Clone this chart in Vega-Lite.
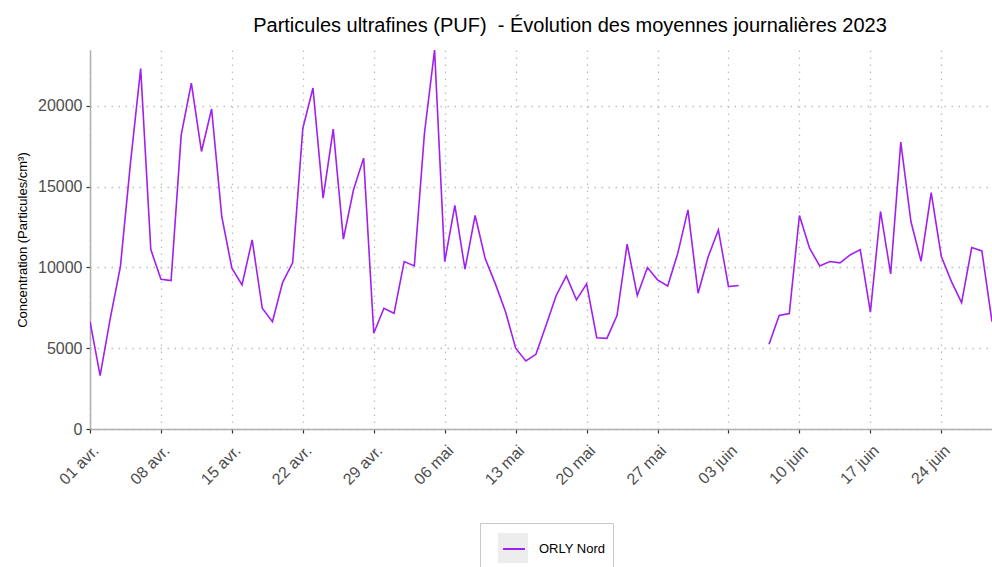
{
  "$schema": "https://vega.github.io/schema/vega-lite/v6.json",
  "width": 902,
  "height": 379,
  "autosize": {"type": "none"},
  "padding": {"left": 90, "top": 50, "right": 0, "bottom": 138},
  "background": "white",
  "title": {
    "text": "Particules ultrafines (PUF) \u00a0- Évolution des moyennes journalières 2023",
    "font": "Liberation Sans",
    "fontSize": 20,
    "fontWeight": "normal",
    "color": "#000000",
    "anchor": "middle",
    "dx": 29,
    "offset": 14
  },
  "data": {
    "values": [
      {"date": "2023-04-01", "value": 6650, "station": "ORLY Nord"},
      {"date": "2023-04-02", "value": 3300, "station": "ORLY Nord"},
      {"date": "2023-04-03", "value": 6850, "station": "ORLY Nord"},
      {"date": "2023-04-04", "value": 10050, "station": "ORLY Nord"},
      {"date": "2023-04-05", "value": 16500, "station": "ORLY Nord"},
      {"date": "2023-04-06", "value": 22300, "station": "ORLY Nord"},
      {"date": "2023-04-07", "value": 11100, "station": "ORLY Nord"},
      {"date": "2023-04-08", "value": 9270, "station": "ORLY Nord"},
      {"date": "2023-04-09", "value": 9185, "station": "ORLY Nord"},
      {"date": "2023-04-10", "value": 18200, "station": "ORLY Nord"},
      {"date": "2023-04-11", "value": 21400, "station": "ORLY Nord"},
      {"date": "2023-04-12", "value": 17170, "station": "ORLY Nord"},
      {"date": "2023-04-13", "value": 19800, "station": "ORLY Nord"},
      {"date": "2023-04-14", "value": 13150, "station": "ORLY Nord"},
      {"date": "2023-04-15", "value": 9950, "station": "ORLY Nord"},
      {"date": "2023-04-16", "value": 8920, "station": "ORLY Nord"},
      {"date": "2023-04-17", "value": 11700, "station": "ORLY Nord"},
      {"date": "2023-04-18", "value": 7470, "station": "ORLY Nord"},
      {"date": "2023-04-19", "value": 6640, "station": "ORLY Nord"},
      {"date": "2023-04-20", "value": 9060, "station": "ORLY Nord"},
      {"date": "2023-04-21", "value": 10300, "station": "ORLY Nord"},
      {"date": "2023-04-22", "value": 18600, "station": "ORLY Nord"},
      {"date": "2023-04-23", "value": 21100, "station": "ORLY Nord"},
      {"date": "2023-04-24", "value": 14280, "station": "ORLY Nord"},
      {"date": "2023-04-25", "value": 18550, "station": "ORLY Nord"},
      {"date": "2023-04-26", "value": 11750, "station": "ORLY Nord"},
      {"date": "2023-04-27", "value": 14800, "station": "ORLY Nord"},
      {"date": "2023-04-28", "value": 16760, "station": "ORLY Nord"},
      {"date": "2023-04-29", "value": 5920, "station": "ORLY Nord"},
      {"date": "2023-04-30", "value": 7470, "station": "ORLY Nord"},
      {"date": "2023-05-01", "value": 7160, "station": "ORLY Nord"},
      {"date": "2023-05-02", "value": 10360, "station": "ORLY Nord"},
      {"date": "2023-05-03", "value": 10090, "station": "ORLY Nord"},
      {"date": "2023-05-04", "value": 18300, "station": "ORLY Nord"},
      {"date": "2023-05-05", "value": 23450, "station": "ORLY Nord"},
      {"date": "2023-05-06", "value": 10360, "station": "ORLY Nord"},
      {"date": "2023-05-07", "value": 13830, "station": "ORLY Nord"},
      {"date": "2023-05-08", "value": 9890, "station": "ORLY Nord"},
      {"date": "2023-05-09", "value": 13210, "station": "ORLY Nord"},
      {"date": "2023-05-10", "value": 10530, "station": "ORLY Nord"},
      {"date": "2023-05-11", "value": 8980, "station": "ORLY Nord"},
      {"date": "2023-05-12", "value": 7260, "station": "ORLY Nord"},
      {"date": "2023-05-13", "value": 5000, "station": "ORLY Nord"},
      {"date": "2023-05-14", "value": 4210, "station": "ORLY Nord"},
      {"date": "2023-05-15", "value": 4620, "station": "ORLY Nord"},
      {"date": "2023-05-16", "value": 6420, "station": "ORLY Nord"},
      {"date": "2023-05-17", "value": 8260, "station": "ORLY Nord"},
      {"date": "2023-05-18", "value": 9470, "station": "ORLY Nord"},
      {"date": "2023-05-19", "value": 7990, "station": "ORLY Nord"},
      {"date": "2023-05-20", "value": 8980, "station": "ORLY Nord"},
      {"date": "2023-05-21", "value": 5650, "station": "ORLY Nord"},
      {"date": "2023-05-22", "value": 5610, "station": "ORLY Nord"},
      {"date": "2023-05-23", "value": 7020, "station": "ORLY Nord"},
      {"date": "2023-05-24", "value": 11440, "station": "ORLY Nord"},
      {"date": "2023-05-25", "value": 8260, "station": "ORLY Nord"},
      {"date": "2023-05-26", "value": 9990, "station": "ORLY Nord"},
      {"date": "2023-05-27", "value": 9230, "station": "ORLY Nord"},
      {"date": "2023-05-28", "value": 8850, "station": "ORLY Nord"},
      {"date": "2023-05-29", "value": 10880, "station": "ORLY Nord"},
      {"date": "2023-05-30", "value": 13560, "station": "ORLY Nord"},
      {"date": "2023-05-31", "value": 8400, "station": "ORLY Nord"},
      {"date": "2023-06-01", "value": 10670, "station": "ORLY Nord"},
      {"date": "2023-06-02", "value": 12320, "station": "ORLY Nord"},
      {"date": "2023-06-03", "value": 8810, "station": "ORLY Nord"},
      {"date": "2023-06-04", "value": 8880, "station": "ORLY Nord"},
      {"date": "2023-06-05", "value": null, "station": "ORLY Nord"},
      {"date": "2023-06-06", "value": null, "station": "ORLY Nord"},
      {"date": "2023-06-07", "value": 5240, "station": "ORLY Nord"},
      {"date": "2023-06-08", "value": 7020, "station": "ORLY Nord"},
      {"date": "2023-06-09", "value": 7140, "station": "ORLY Nord"},
      {"date": "2023-06-10", "value": 13210, "station": "ORLY Nord"},
      {"date": "2023-06-11", "value": 11190, "station": "ORLY Nord"},
      {"date": "2023-06-12", "value": 10090, "station": "ORLY Nord"},
      {"date": "2023-06-13", "value": 10360, "station": "ORLY Nord"},
      {"date": "2023-06-14", "value": 10280, "station": "ORLY Nord"},
      {"date": "2023-06-15", "value": 10770, "station": "ORLY Nord"},
      {"date": "2023-06-16", "value": 11100, "station": "ORLY Nord"},
      {"date": "2023-06-17", "value": 7230, "station": "ORLY Nord"},
      {"date": "2023-06-18", "value": 13460, "station": "ORLY Nord"},
      {"date": "2023-06-19", "value": 9600, "station": "ORLY Nord"},
      {"date": "2023-06-20", "value": 17750, "station": "ORLY Nord"},
      {"date": "2023-06-21", "value": 12840, "station": "ORLY Nord"},
      {"date": "2023-06-22", "value": 10380, "station": "ORLY Nord"},
      {"date": "2023-06-23", "value": 14630, "station": "ORLY Nord"},
      {"date": "2023-06-24", "value": 10670, "station": "ORLY Nord"},
      {"date": "2023-06-25", "value": 9120, "station": "ORLY Nord"},
      {"date": "2023-06-26", "value": 7820, "station": "ORLY Nord"},
      {"date": "2023-06-27", "value": 11230, "station": "ORLY Nord"},
      {"date": "2023-06-28", "value": 11020, "station": "ORLY Nord"},
      {"date": "2023-06-29", "value": 6640, "station": "ORLY Nord"}
    ]
  },
  "layer": [
    {
      "transform": [{"filter": "false"}],
      "mark": {"type": "square"},
      "encoding": {
        "fill": {
          "datum": "ORLY Nord",
          "type": "nominal",
          "scale": {"range": ["#e5e5e5"]},
          "legend": {
            "title": null,
            "orient": "none",
            "legendX": 390,
            "legendY": 473,
            "symbolType": "square",
            "symbolSize": 900,
            "symbolStrokeWidth": 0,
            "symbolOffset": 8,
            "labelExpr": "''",
            "labelFontSize": 13,
            "labelFont": "Liberation Sans",
            "labelOffset": 75,
            "padding": 10,
            "strokeColor": "#c8c8c8",
            "fillColor": "white",
            "encoding": {"legend": {"update": {"strokeDash": {"value": [2, 3]}}}}
          }
        }
      }
    },
    {
      "mark": {"type": "line", "strokeWidth": 1.6, "invalid": "break-paths-show-domains", "clip": true},
      "encoding": {
        "x": {
          "field": "date",
          "type": "temporal",
          "scale": {
            "type": "utc",
            "domain": [
              {"year": 2023, "month": 4, "date": 1, "utc": true},
              {"year": 2023, "month": 6, "date": 29, "utc": true}
            ]
          },
          "axis": {
            "title": null,
            "format": "%d %b",
            "values": [
              {"year": 2023, "month": 4, "date": 1, "utc": true},
              {"year": 2023, "month": 4, "date": 8, "utc": true},
              {"year": 2023, "month": 4, "date": 15, "utc": true},
              {"year": 2023, "month": 4, "date": 22, "utc": true},
              {"year": 2023, "month": 4, "date": 29, "utc": true},
              {"year": 2023, "month": 5, "date": 6, "utc": true},
              {"year": 2023, "month": 5, "date": 13, "utc": true},
              {"year": 2023, "month": 5, "date": 20, "utc": true},
              {"year": 2023, "month": 5, "date": 27, "utc": true},
              {"year": 2023, "month": 6, "date": 3, "utc": true},
              {"year": 2023, "month": 6, "date": 10, "utc": true},
              {"year": 2023, "month": 6, "date": 17, "utc": true},
              {"year": 2023, "month": 6, "date": 24, "utc": true}
            ],
            "labelAngle": -45,
            "labelAlign": "right",
            "labelBaseline": "top",
            "labelPadding": 9,
            "labelOverlap": false,
            "labelFlush": false,
            "labelBound": false
          }
        },
        "y": {
          "field": "value",
          "type": "quantitative",
          "scale": {"domain": [0, 23450], "nice": false, "zero": true},
          "axis": {
            "title": "Concentration (Particules/cm³)",
            "values": [0, 5000, 10000, 15000, 20000],
            "format": "d",
            "titlePadding": 8,
            "labelPadding": 4
          }
        },
        "stroke": {
          "field": "station",
          "type": "nominal",
          "scale": {"range": ["#A020F0"]},
          "legend": {
            "title": null,
            "orient": "none",
            "legendX": 390,
            "legendY": 477,
            "symbolType": "stroke",
            "symbolSize": 480,
            "symbolStrokeWidth": 2,
            "symbolOffset": 12,
            "labelFontSize": 13,
            "labelColor": "#000000",
            "labelFont": "Liberation Sans",
            "labelOffset": 13,
            "padding": 10,
            "strokeColor": null,
            "fillColor": null
          }
        }
      }
    }
  ],
  "config": {
    "locale": {
      "time": {
        "dateTime": "%A %e %B %Y à %X",
        "date": "%d/%m/%Y",
        "time": "%H:%M:%S",
        "periods": ["AM", "PM"],
        "days": ["dimanche", "lundi", "mardi", "mercredi", "jeudi", "vendredi", "samedi"],
        "shortDays": ["dim.", "lun.", "mar.", "mer.", "jeu.", "ven.", "sam."],
        "months": ["janvier", "février", "mars", "avril", "mai", "juin", "juillet", "août", "septembre", "octobre", "novembre", "décembre"],
        "shortMonths": ["janv.", "févr.", "mars", "avr.", "mai", "juin", "juil.", "août", "sept.", "oct.", "nov.", "déc."]
      }
    },
    "view": {"stroke": null},
    "font": "Liberation Sans",
    "axis": {
      "labelFont": "Liberation Sans",
      "labelFontSize": 16,
      "labelColor": "#4d4d4d",
      "titleFont": "Liberation Sans",
      "titleFontSize": 13,
      "titleFontWeight": "normal",
      "titleColor": "#000000",
      "domainColor": "#b0b0b0",
      "domainWidth": 1.5,
      "tickColor": "#333333",
      "tickSize": 4,
      "tickWidth": 1.2,
      "grid": true,
      "gridColor": "#bdbdbd",
      "gridDash": [1.5, 5.5],
      "gridWidth": 1.3
    }
  }
}
